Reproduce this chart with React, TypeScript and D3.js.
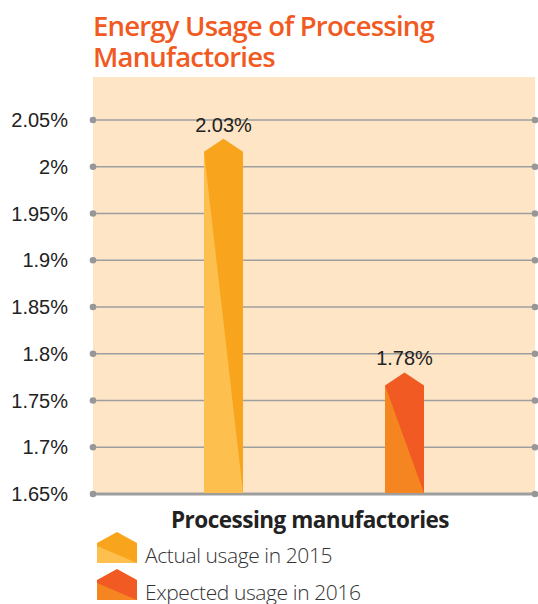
import React from "react";
import * as d3 from "d3";

const categories = ["Actual usage in 2015", "Expected usage in 2016"];
const values = [2.03, 1.78];
const valueLabels = ["2.03%", "1.78%"];
const yTicks = [1.65, 1.7, 1.75, 1.8, 1.85, 1.9, 1.95, 2.0, 2.05];
const yTickLabels = ["1.65%", "1.7%", "1.75%", "1.8%", "1.85%", "1.9%", "1.95%", "2%", "2.05%"];
const darkColors = ["#F8A51D", "#F15A22"];
const lightColors = ["#FDC04F", "#F58521"];
const title = ["Energy Usage of Processing", "Manufactories"];
const xTitle = "Processing manufactories";

export default function App() {
  const W = 538, H = 604;
  const panelL = 93, panelR = 535, panelT = 77;
  const y = d3.scaleLinear().domain([1.65, 2.05]).range([494, 120]);
  const x = d3.scalePoint<string>().domain(categories).range([panelL + 130.5, panelR - 130.5]);
  const bw = 39;
  const shoulder = 13;
  return (
    <svg width={W} height={H} style={{ position: "absolute", left: 0, top: 0 }}>
      <rect x={panelL} y={panelT} width={panelR - panelL} height={y(1.65) - panelT} fill="#FDE5C5" />
      {title.map((t, i) => (
        <text key={i} x={panelL} y={36 + i * 31} fill="#F15A22" fontFamily="'Open Sans', sans-serif" fontWeight={600} fontSize={27.5} letterSpacing={-0.8}>{t}</text>
      ))}
      {yTicks.map((t, i) => (
        <g key={i}>
          <line x1={panelL} x2={panelR} y1={y(t)} y2={y(t)} stroke="#9E9E9E" strokeWidth={i === 0 ? 3 : 1.5} />
          <circle cx={panelL} cy={y(t)} r={3.3} fill="#979797" />
          <circle cx={panelR} cy={y(t)} r={3.3} fill="#979797" />
          <text x={68} y={y(t)} dy="0.36em" textAnchor="end" fontFamily="'Liberation Sans', Arial, sans-serif" fontSize={20} fill="#222">{yTickLabels[i]}</text>
        </g>
      ))}
      {categories.map((c, i) => {
        const cx = x(c)!;
        const l = cx - bw / 2, r = cx + bw / 2;
        const top = y(values[i]);
        const sh = top + shoulder;
        const b = y(1.65) - 1;
        return (
          <g key={c}>
            <path d={`M${l},${b}L${l},${sh}L${cx},${top}L${r},${sh}L${r},${b}Z`} fill={darkColors[i]} />
            <path d={`M${l},${sh}L${l},${b}L${r},${b}Z`} fill={lightColors[i]} />
            <text x={cx} y={top - 7} textAnchor="middle" fontFamily="'Liberation Sans', Arial, sans-serif" fontSize={20} fill="#222">{valueLabels[i]}</text>
          </g>
        );
      })}
      <text x={310} y={528} textAnchor="middle" fontFamily="'Open Sans', sans-serif" fontWeight={700} fontSize={22.5} letterSpacing={-0.5} fill="#222">{xTitle}</text>
      {categories.map((c, i) => {
        const top = 532 + i * 37;
        const l = 97, r = 137, cx = 117;
        const sh = top + 11, b = top + 31;
        return (
          <g key={"lg" + i}>
            <path d={`M${l},${b}L${l},${sh}L${cx},${top}L${r},${sh}L${r},${b}Z`} fill={darkColors[i]} />
            <path d={`M${l},${sh + 3}L${l},${b}L${r},${b}Z`} fill={lightColors[i]} />
            <text x={145} y={b} fontFamily="'Open Sans', sans-serif" fontWeight={300} fontSize={21} letterSpacing={-0.4} fill="#333">{c}</text>
          </g>
        );
      })}
    </svg>
  );
}
